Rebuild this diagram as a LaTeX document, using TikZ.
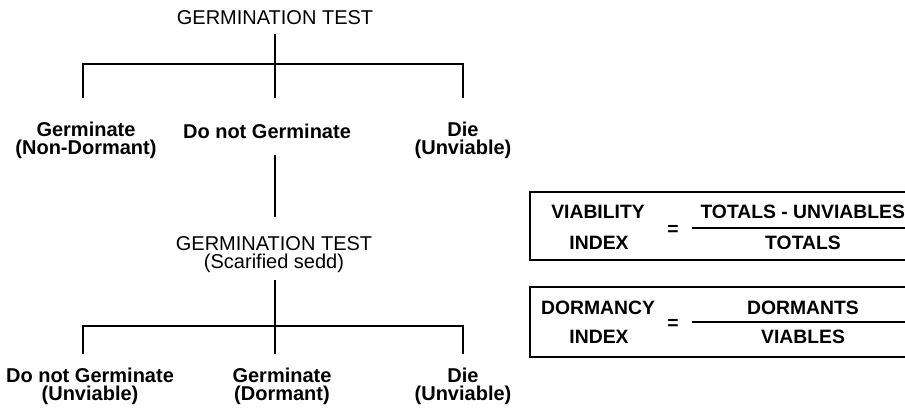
\documentclass[tikz,border=0pt]{standalone}
\usepackage{fontspec}
\setmainfont{Liberation Sans}

\begin{document}
\tikzset{every picture/.style={line width=0.75pt}}
\tikzset{
  testlbl/.style={font=\fontsize{15}{13.5}\selectfont, inner sep=0.75pt, align=center},
  leaflbl/.style={font=\bfseries\fontsize{15}{13.5}\selectfont, inner sep=0.75pt, align=center},
  idxlbl/.style={font=\bfseries\fontsize{14.5}{14}\selectfont, inner sep=0.75pt},
  branch/.style={line width=1pt},
  frame/.style={line width=1.1pt}
}
\begin{tikzpicture}[x=0.75pt,y=0.75pt,yscale=-1,xscale=1]
\useasboundingbox (0,0) rectangle (905,412);
\clip (0,0) rectangle (905,412);

% Text Node
\node[testlbl] (test1) at (275,18) {GERMINATION TEST};
% Text Node
\node[leaflbl] (nondorm) at (86,140) {Germinate\\(Non-Dormant)};
% Text Node
\node[leaflbl] (notgerm) at (267,131) {Do not Germinate};
% Text Node
\node[leaflbl] (die1) at (463,140) {Die\\(Unviable)};
% Text Node
\node[testlbl] (test2) at (274,255) {GERMINATION TEST\\(Scarified sedd)};
% Text Node
\node[leaflbl] (unviable) at (90,386) {Do not Germinate\\(Unviable)};
% Text Node
\node[leaflbl] (dormant) at (282,386) {Germinate\\(Dormant)};
% Text Node
\node[leaflbl] (die2) at (463,386) {Die\\(Unviable)};

%first test
\coordinate (stem1) at (275,34);
\coordinate (fork1) at (275,64);
\coordinate (b1) at (83,98);
\coordinate (b2) at (275,98);
\coordinate (b3) at (463,98);
\draw[branch] (stem1) -- (fork1);
\draw[branch] (b1) |- (fork1) -| (b3);
\draw[branch] (fork1) -- (b2);

%do not germinate -> second test
\coordinate (stem2) at (275,155);
\coordinate (stem2e) at (275,217);
\draw[branch] (stem2) -- (stem2e);

%second test
\coordinate (stem3) at (275,280);
\coordinate (fork2) at (275,326);
\coordinate (c1) at (83,354);
\coordinate (c2) at (275,354);
\coordinate (c3) at (463,354);
\draw[branch] (stem3) -- (fork2);
\draw[branch] (c1) |- (fork2) -| (c3);
\draw[branch] (fork2) -- (c2);

%Viability index
\draw[frame] (530,192) rectangle (925,260);
\node[idxlbl] (via) at (598,212) {VIABILITY};
\node[idxlbl] (viaidx) at (599,243) {INDEX};
\node[idxlbl] (eq1) at (673,230) {=};
\node[idxlbl, anchor=west] (num1) at (699,212) {TOTALS - UNVIABLES};
\node[idxlbl] (den1) at (803,243) {TOTALS};
\draw[frame] (692,228) -- (925,228);

%Dormancy index
\draw[frame] (530,287) rectangle (925,357);
\node[idxlbl] (dorm) at (598,308) {DORMANCY};
\node[idxlbl] (dormidx) at (599,337) {INDEX};
\node[idxlbl] (eq2) at (673,324) {=};
\node[idxlbl] (num2) at (803,308) {DORMANTS};
\node[idxlbl] (den2) at (803,337) {VIABLES};
\draw[frame] (692,322) -- (925,322);

\end{tikzpicture}
\end{document}
